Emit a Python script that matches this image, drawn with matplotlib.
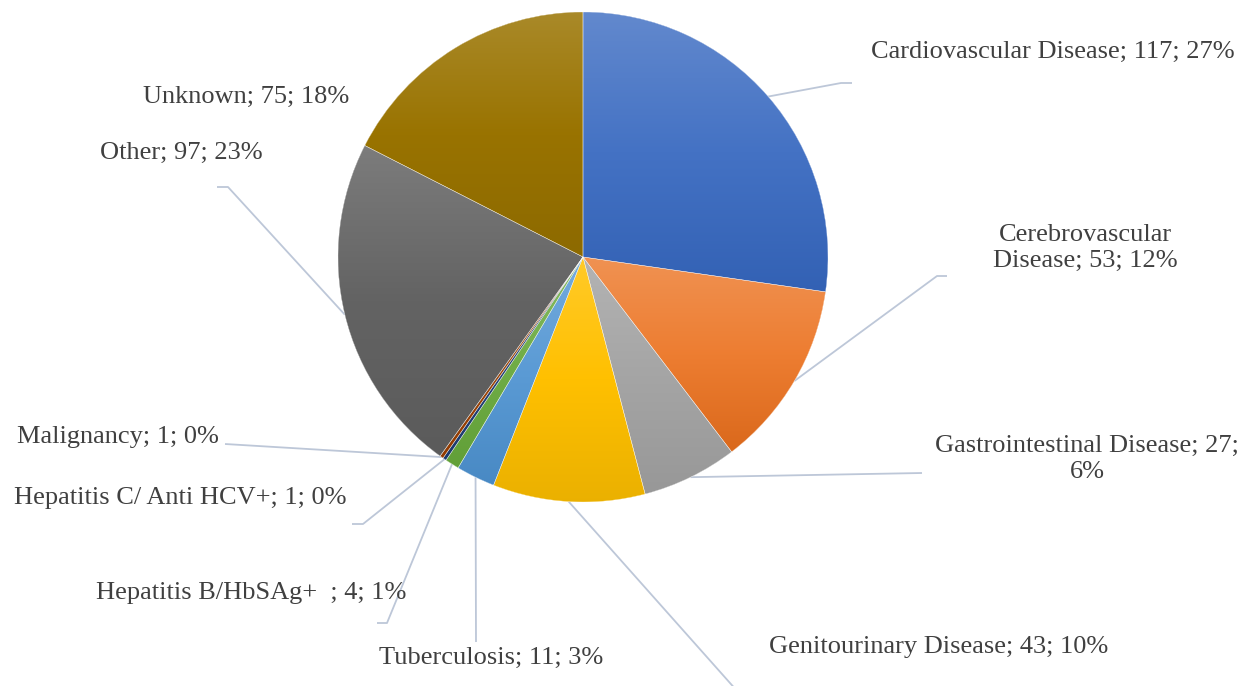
import numpy as np
import matplotlib
matplotlib.use("Agg")
import matplotlib.pyplot as plt
from matplotlib.colors import to_rgb, rgb_to_hsv, hsv_to_rgb
from matplotlib.patches import PathPatch

# ---- data ----
categories = ["Cardiovascular Disease", "Cerebrovascular Disease", "Gastrointestinal Disease",
              "Genitourinary Disease", "Tuberculosis", "Hepatitis B/HbSAg+  ",
              "Hepatitis C/ Anti HCV+", "Malignancy", "Other", "Unknown"]
values = [117, 53, 27, 43, 11, 4, 1, 1, 97, 75]
colors = ["#4472C4", "#ED7D31", "#A5A5A5", "#FFC000", "#5B9BD5", "#70AD47",
          "#264478", "#9E480E", "#636363", "#997300"]
label_texts = ["Cardiovascular Disease; 117; 27%", "Cerebrovascular\nDisease; 53; 12%",
               "Gastrointestinal Disease; 27;\n6%", "Genitourinary Disease; 43; 10%",
               "Tuberculosis; 11; 3%", "Hepatitis B/HbSAg+  ; 4; 1%",
               "Hepatitis C/ Anti HCV+; 1; 0%", "Malignancy; 1; 0%",
               "Other; 97; 23%", "Unknown; 75; 18%"]

# ---- layout (pixel coords, y down) ----
W, H = 1243, 686
CX, CY, R = 583, 257, 245
label_pos = [(1053, 52), (1085, 248), (1087, 459), (939, 647), (491, 658),
             (251, 593), (180, 498), (118, 437), (181, 153), (246, 97)]
leader_pts = [[(841, 83), (852, 83)], [(937, 276), (947, 276)], [(922, 473)],
              [(738, 692)], [(476, 642)], [(387, 623), (377, 623)],
              [(363, 524), (352, 524)], [(225, 444)], [(228, 187), (217, 187)], None]

fig = plt.figure(figsize=(W / 100, H / 100), dpi=100)
ax = fig.add_axes([0, 0, 1, 1])


def fy(y):
    return H - y


wedges, _ = ax.pie(values, colors=colors, startangle=90, counterclock=False,
                   center=(CX, fy(CY)), radius=R,
                   wedgeprops=dict(edgecolor="none", linewidth=0), frame=True)
ax.set_xlim(0, W)
ax.set_ylim(0, H)
ax.set_aspect("equal")
ax.axis("off")


def shade(rgb):
    h, s, v = rgb_to_hsv(rgb)
    return hsv_to_rgb([h, min(1, s * 1.1), v * 0.92])


# gradient fill per wedge
for w, c in zip(wedges, colors):
    rgb = np.array(to_rgb(c))
    top = rgb + (1 - rgb) * 0.16
    bot = np.array(shade(rgb))
    bb = w.get_path().get_extents()
    n = 128
    t = np.linspace(0, 1, n)[:, None]
    img = np.where(t < 0.5,
                   top[None, :] * (1 - 2 * t) + rgb[None, :] * (2 * t),
                   rgb[None, :] * (2 - 2 * t) + bot[None, :] * (2 * t - 1))
    img = np.repeat(img[:, None, :], 2, axis=1)
    im = ax.imshow(img, extent=(bb.x0, bb.x1, bb.y0, bb.y1), origin="upper",
                   aspect="auto", zorder=w.get_zorder() + 0.1, interpolation="bilinear")
    im.set_clip_path(w)
    ax.add_patch(PathPatch(w.get_path(), facecolor="none", edgecolor="white",
                           linewidth=0.3, alpha=0.8, zorder=w.get_zorder() + 0.2))

ax.set_xlim(0, W)
ax.set_ylim(0, H)

# leader lines & labels
for w, txt, pos, pts in zip(wedges, label_texts, label_pos, leader_pts):
    if pts is not None:
        mid = np.deg2rad((w.theta1 + w.theta2) / 2)
        sx = CX + R * np.cos(mid)
        sy = fy(CY) + R * np.sin(mid)
        xs = [sx] + [p[0] for p in pts]
        ys = [sy] + [fy(p[1]) for p in pts]
        ax.plot(xs, ys, color="#BDC7D8", lw=1.3, zorder=1, solid_capstyle="butt")
    ax.text(pos[0], fy(pos[1]), txt, ha="center", va="center", fontsize=19,
            family="Liberation Serif", color="#404040", linespacing=1.25, zorder=5)

fig.savefig("out.png", dpi=100)
